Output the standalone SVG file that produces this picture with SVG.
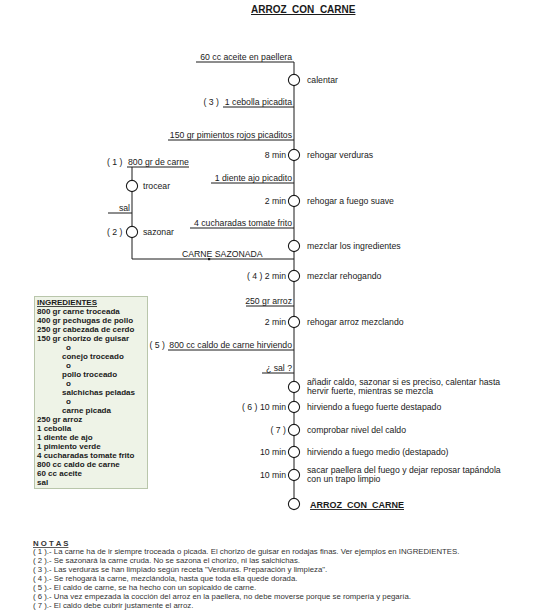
<svg xmlns="http://www.w3.org/2000/svg" width="560" height="612" viewBox="0 0 560 612">
<style>
text{font-family:"Liberation Sans",Arial,Helvetica,sans-serif;fill:#1a1a1a}
.t{font-size:8.7px}
.e{text-anchor:end}
.b{font-weight:bold}
.u{text-decoration:underline}
.ing{font-size:8px;font-weight:bold}
.n{font-size:7.8px;fill:#333}
.c{fill:#fff;stroke:#1a1a1a;stroke-width:1.1}
.l{fill:none;stroke:#1a1a1a;stroke-width:1}
</style>
<rect width="560" height="612" fill="#fff"/>
<g id="title"><text x="251" y="13" class="b u" font-size="10">ARROZ&#160;&#160;CON&#160;&#160;CARNE</text></g>
<g id="connectors">
<path class="l" d="M294,62 V498"/>
<path class="l" d="M196,62 H294 M223,107 H294 M168,140 H294 M211,183 H294 M190,228 H294 M246,306 H294 M168,350 H294 M262,373 H294"/>
<path class="l" d="M127,167 H189 M132,167 V259 H294 M108,213 H132"/>
<rect x="208" y="258" width="2.2" height="2.2" fill="#1a1a1a"/>
</g>
<g id="inputs" class="t">
<text x="292" y="59.5" class="e t">60 cc aceite en paellera</text>
<text x="219" y="104.5" class="e t">( 3 )</text>
<text x="292" y="104.5" class="e t">1 cebolla picadita</text>
<text x="292" y="137.5" class="e t">150 gr pimientos rojos picaditos</text>
<text x="292" y="180.5" class="e t">1 diente ajo picadito</text>
<text x="292" y="225.5" class="e t">4 cucharadas tomate frito</text>
<text x="292" y="303.5" class="e t">250 gr arroz</text>
<text x="165" y="347.5" class="e t">( 5 )</text>
<text x="292" y="347.5" class="e t">800 cc caldo de carne hirviendo</text>
<text x="292" y="370.5" class="e t">¿ sal ?</text>
<text x="107" y="164.5" class="t">( 1 )</text>
<text x="128" y="164.5" class="t">800 gr de carne</text>
<text x="130" y="210.5" class="e t">sal</text>
<text x="182" y="257" class="t">CARNE SAZONADA</text>
</g>
<g id="n1"><circle class="c" cx="294" cy="80" r="5.6"/><text x="307" y="83" class="t">calentar</text></g>
<g id="n2"><circle class="c" cx="294" cy="155" r="5.6"/><text x="286" y="158" class="e t">8 min</text><text x="307" y="158" class="t">rehogar verduras</text></g>
<g id="n3"><circle class="c" cx="294" cy="201" r="5.6"/><text x="286" y="204" class="e t">2 min</text><text x="307" y="204" class="t">rehogar a fuego suave</text></g>
<g id="n4"><circle class="c" cx="294" cy="246" r="5.6"/><text x="307" y="249" class="t">mezclar los ingredientes</text></g>
<g id="n5"><circle class="c" cx="294" cy="276" r="5.6"/><text x="286" y="279" class="e t">( 4 )  2 min</text><text x="307" y="279" class="t">mezclar rehogando</text></g>
<g id="n6"><circle class="c" cx="294" cy="322" r="5.6"/><text x="286" y="325" class="e t">2 min</text><text x="307" y="325" class="t">rehogar arroz mezclando</text></g>
<g id="n7"><circle class="c" cx="294" cy="387" r="5.6"/><text x="307" y="385" class="t">añadir caldo, sazonar si es preciso, calentar hasta</text><text x="307" y="394" class="t">hervir fuerte, mientras se mezcla</text></g>
<g id="n8"><circle class="c" cx="294" cy="407" r="5.6"/><text x="286" y="410" class="e t">( 6 )  10 min</text><text x="307" y="410" class="t">hirviendo a fuego fuerte destapado</text></g>
<g id="n9"><circle class="c" cx="294" cy="430" r="5.6"/><text x="286" y="433" class="e t">( 7 )</text><text x="307" y="433" class="t">comprobar nivel del caldo</text></g>
<g id="n10"><circle class="c" cx="294" cy="452" r="5.6"/><text x="286" y="455" class="e t">10 min</text><text x="307" y="455" class="t">hirviendo a fuego medio (destapado)</text></g>
<g id="n11"><circle class="c" cx="294" cy="475" r="5.6"/><text x="286" y="478" class="e t">10 min</text><text x="307" y="473" class="t">sacar paellera del fuego y dejar reposar tapándola</text><text x="307" y="482" class="t">con un trapo limpio</text></g>
<g id="n12"><circle class="c" cx="294" cy="504" r="5.6"/><text x="310" y="508" class="b u" font-size="9">ARROZ&#160;&#160;CON&#160;&#160;CARNE</text></g>
<g id="l1"><circle class="c" cx="132" cy="186" r="5.6"/><text x="143" y="189" class="t">trocear</text></g>
<g id="l2"><circle class="c" cx="132" cy="232" r="5.6"/><text x="107" y="235" class="t">( 2 )</text><text x="143" y="235" class="t">sazonar</text></g>
<g id="ingredientes">
<rect x="34.5" y="296.5" width="113" height="192" fill="#eef3e7" stroke="#b9c6ab" stroke-width="1"/>
<text class="ing u" x="37" y="305">INGREDIENTES</text>
<text class="ing" x="37" y="314">800 gr carne troceada</text>
<text class="ing" x="37" y="323">400 gr pechugas de pollo</text>
<text class="ing" x="37" y="332">250 gr cabezada de cerdo</text>
<text class="ing" x="37" y="341">150 gr chorizo de guisar</text>
<text class="ing" x="66" y="350">o</text>
<text class="ing" x="62" y="359">conejo troceado</text>
<text class="ing" x="66" y="368">o</text>
<text class="ing" x="62" y="377">pollo troceado</text>
<text class="ing" x="66" y="386">o</text>
<text class="ing" x="62" y="395">salchichas peladas</text>
<text class="ing" x="66" y="404">o</text>
<text class="ing" x="62" y="413">carne picada</text>
<text class="ing" x="37" y="422">250 gr arroz</text>
<text class="ing" x="37" y="431">1 cebolla</text>
<text class="ing" x="37" y="440">1 diente de ajo</text>
<text class="ing" x="37" y="449">1 pimiento verde</text>
<text class="ing" x="37" y="458">4 cucharadas tomate frito</text>
<text class="ing" x="37" y="467">800 cc caldo de carne</text>
<text class="ing" x="37" y="476">60 cc aceite</text>
<text class="ing" x="37" y="485">sal</text>
</g>
<g id="notas">
<text class="n b u" x="33" y="546">N O T A S</text>
<text class="n" x="33" y="554">( 1 ).- La carne ha de ir siempre troceada o picada. El chorizo de guisar en rodajas finas. Ver ejemplos en INGREDIENTES.</text>
<text class="n" x="33" y="563">( 2 ).- Se sazonará la carne cruda. No se sazona el chorizo, ni las salchichas.</text>
<text class="n" x="33" y="572">( 3 ).- Las verduras se han limpiado según receta "Verduras. Preparación y limpieza".</text>
<text class="n" x="33" y="581">( 4 ).- Se rehogará la carne, mezclándola, hasta que toda ella quede dorada.</text>
<text class="n" x="33" y="590">( 5 ).- El caldo de carne, se ha hecho con un sopicaldo de carne.</text>
<text class="n" x="33" y="599">( 6 ).- Una vez empezada la cocción del arroz en la paellera, no debe moverse porque se rompería y pegaría.</text>
<text class="n" x="33" y="608">( 7 ).- El caldo debe cubrir justamente el arroz.</text>
</g>
</svg>
